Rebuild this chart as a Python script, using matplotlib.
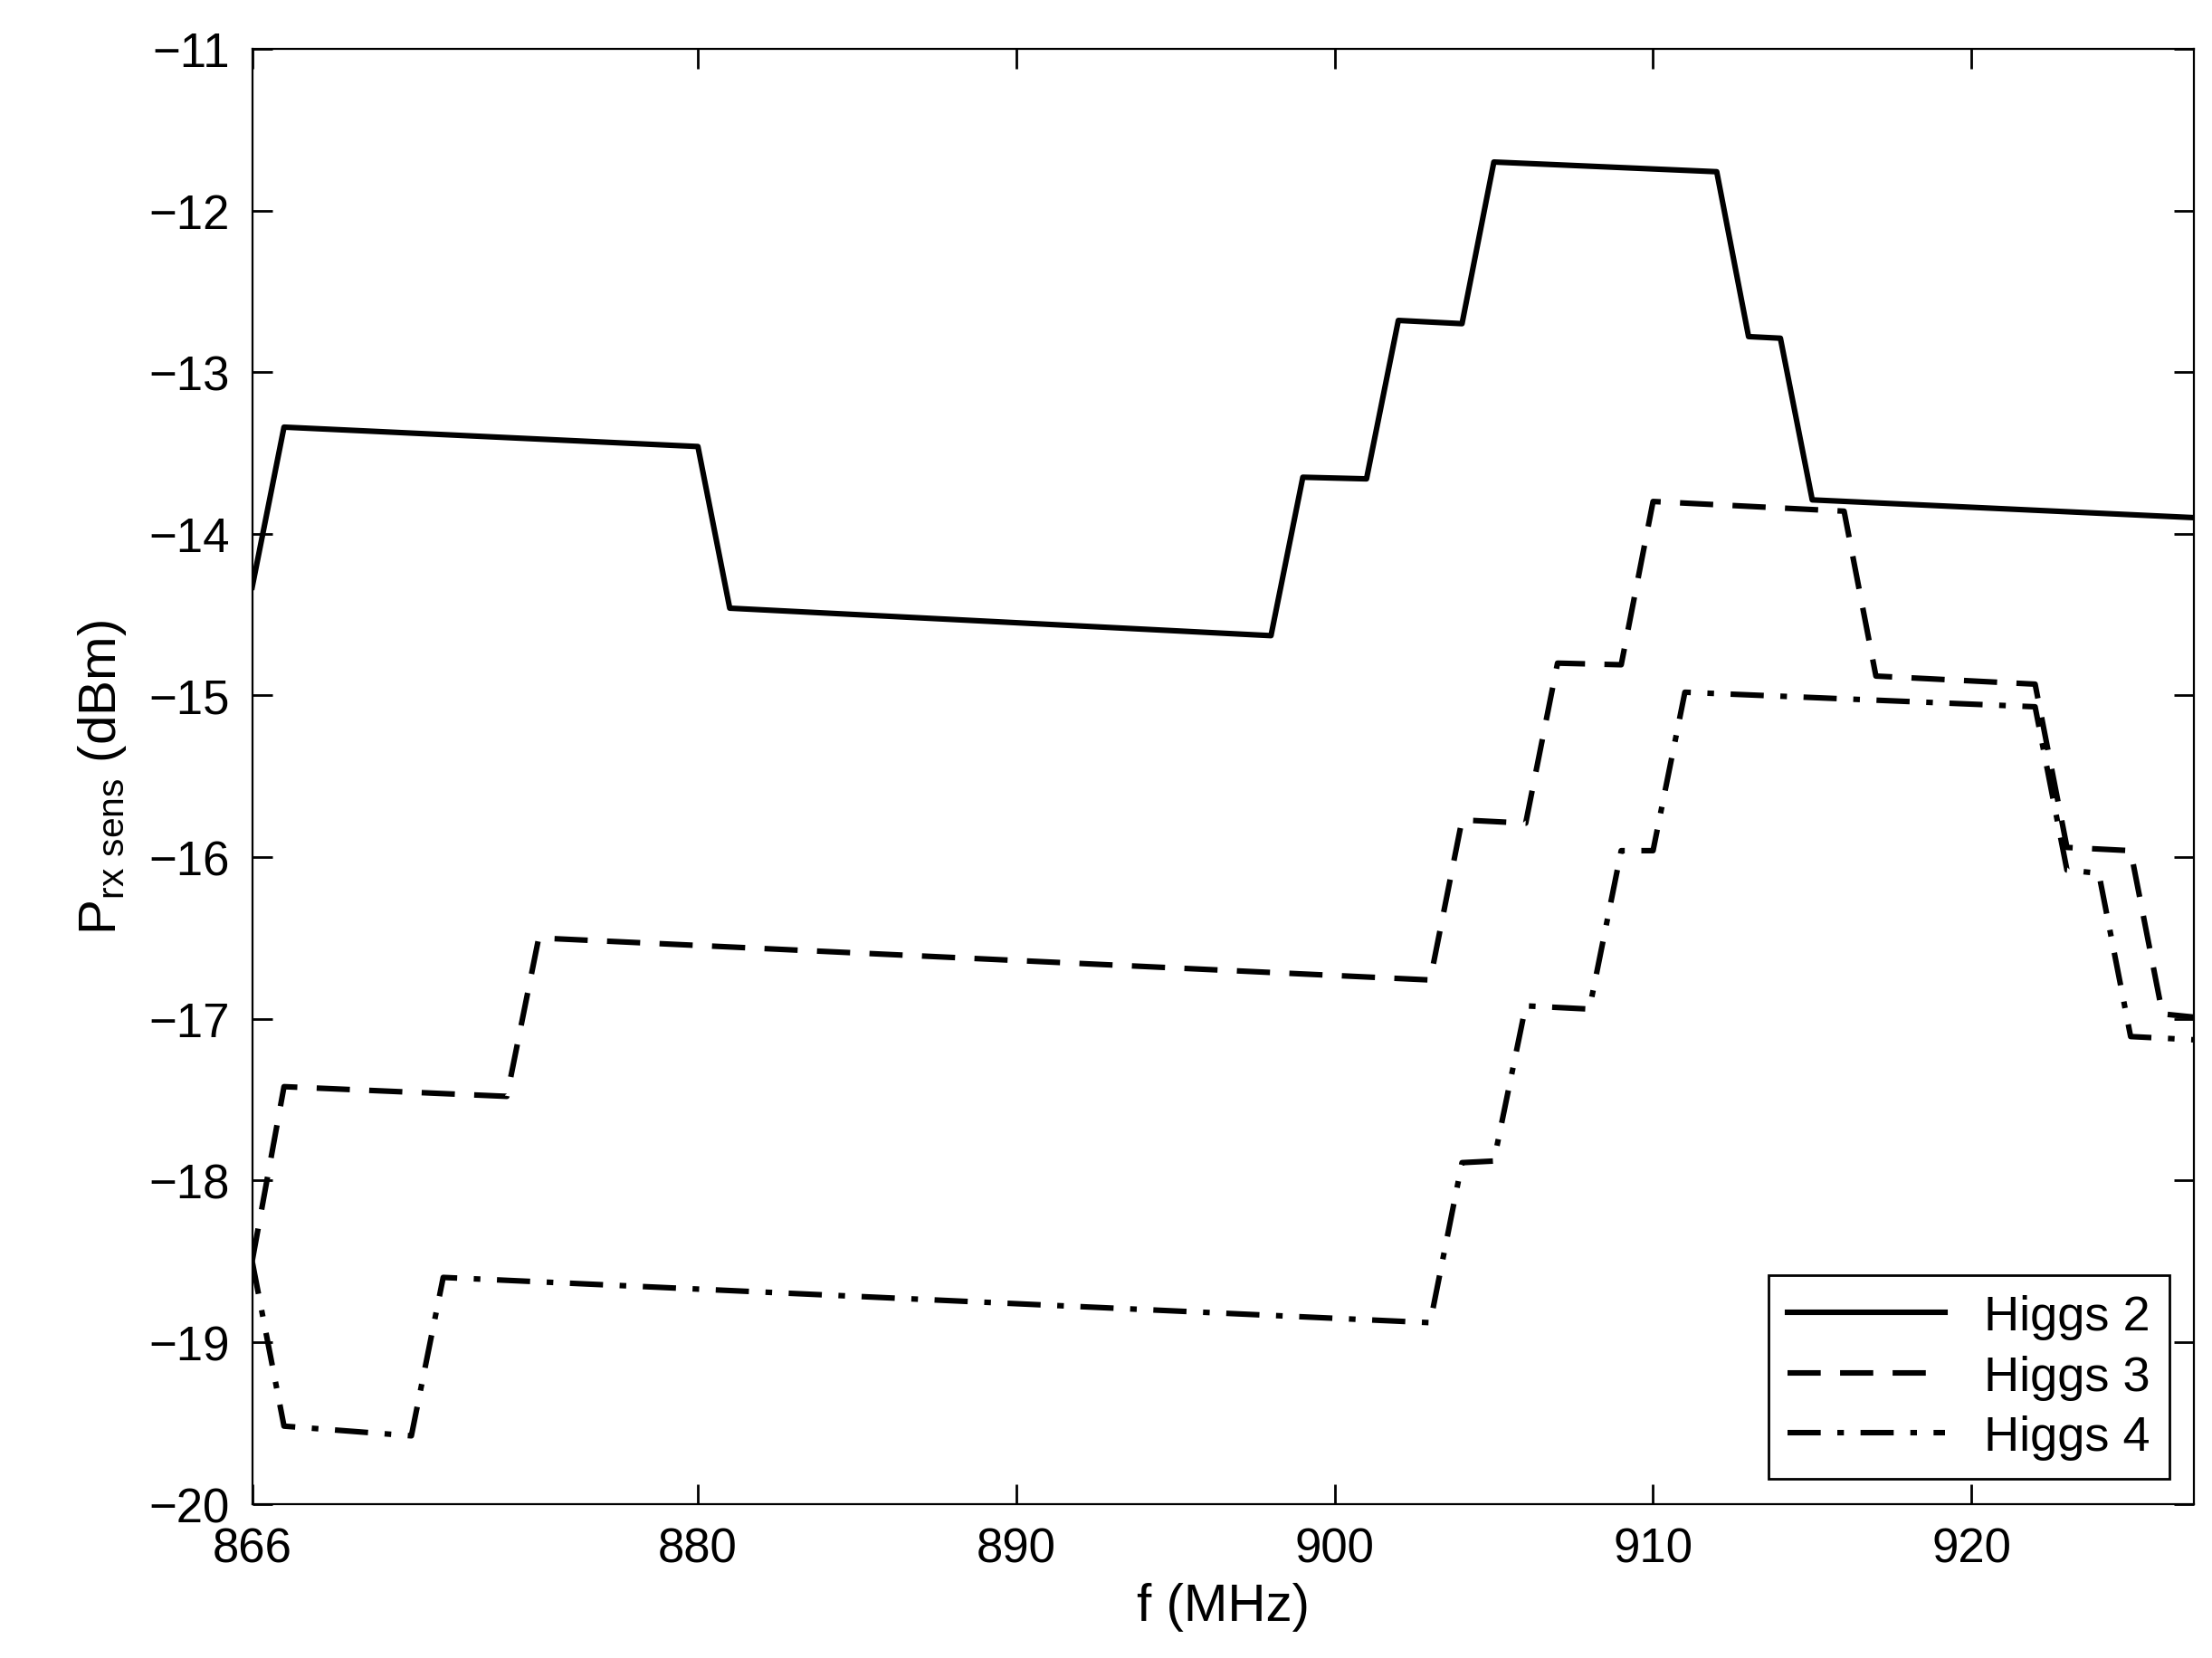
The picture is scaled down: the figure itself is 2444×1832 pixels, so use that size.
import matplotlib
matplotlib.use("Agg")
import matplotlib.pyplot as plt

plt.rcParams['font.family'] = ['Liberation Sans', 'DejaVu Sans']
plt.rcParams['mathtext.fontset'] = 'custom'
plt.rcParams['mathtext.rm'] = 'Liberation Sans'

# Higgs 2
f2 = [866, 867, 880, 881, 898, 899, 901, 902, 904, 905, 912, 913, 914, 915, 927]
p2 = [-14.33, -13.34, -13.46, -14.46, -14.63, -13.65, -13.66, -12.68, -12.70,
      -11.70, -11.76, -12.78, -12.79, -13.79, -13.90]

# Higgs 3
f3 = [866, 867, 874, 875, 903, 904, 906, 907, 909, 910, 916, 917, 922, 923,
      925, 926, 927]
p3 = [-18.5, -17.42, -17.48, -16.50, -16.76, -15.77, -15.79, -14.80, -14.81,
      -13.80, -13.86, -14.88, -14.93, -15.94, -15.96, -16.97, -16.99]

# Higgs 4
f4 = [866, 867, 871, 872, 903, 904, 905, 906, 908, 909, 910, 911, 922, 923,
      924, 925, 927]
p4 = [-18.5, -19.52, -19.58, -18.60, -18.88, -17.89, -17.88, -16.92, -16.94,
      -15.96, -15.96, -14.98, -15.07, -16.08, -16.10, -17.11, -17.13]

XTICKS = [866, 880, 890, 900, 910, 920]

fig = plt.figure(figsize=(12.22, 9.165), dpi=200)
ax = fig.add_axes([0.114, 0.093, 0.878, 0.877])

ax.plot(f2, p2, color='black', linestyle='-', linewidth=2.2, label='Higgs 2')
ax.plot(f3, p3, color='black', linestyle=(0, (6, 3.5)), linewidth=2.2, label='Higgs 3')
ax.plot(f4, p4, color='black', linestyle=(0, (6, 3, 1.2, 3)), linewidth=2.2, label='Higgs 4')

ax.set_xlim(866, 927)
ax.set_ylim(-20, -11)
ax.set_xticks(XTICKS)
ax.set_yticks(range(-20, -10))
ax.set_yticklabels([f"\u2212{abs(v)}" for v in range(-20, -10)])
ax.tick_params(direction='in', top=True, right=True, labelsize=19, length=8,
               width=1, pad=9)
ax.set_xlabel('f (MHz)', fontsize=21, labelpad=4)
ax.set_ylabel(r'P$_{\mathrm{rx\ sens}}$ (dBm)', fontsize=21, labelpad=8)

leg = ax.legend(loc='lower right', fontsize=19.5, fancybox=False, framealpha=1,
                edgecolor='black', handlelength=3.2, borderaxespad=0.5,
                labelspacing=0.3)
leg.get_frame().set_linewidth(1)

fig.savefig('out.png', dpi=200)
